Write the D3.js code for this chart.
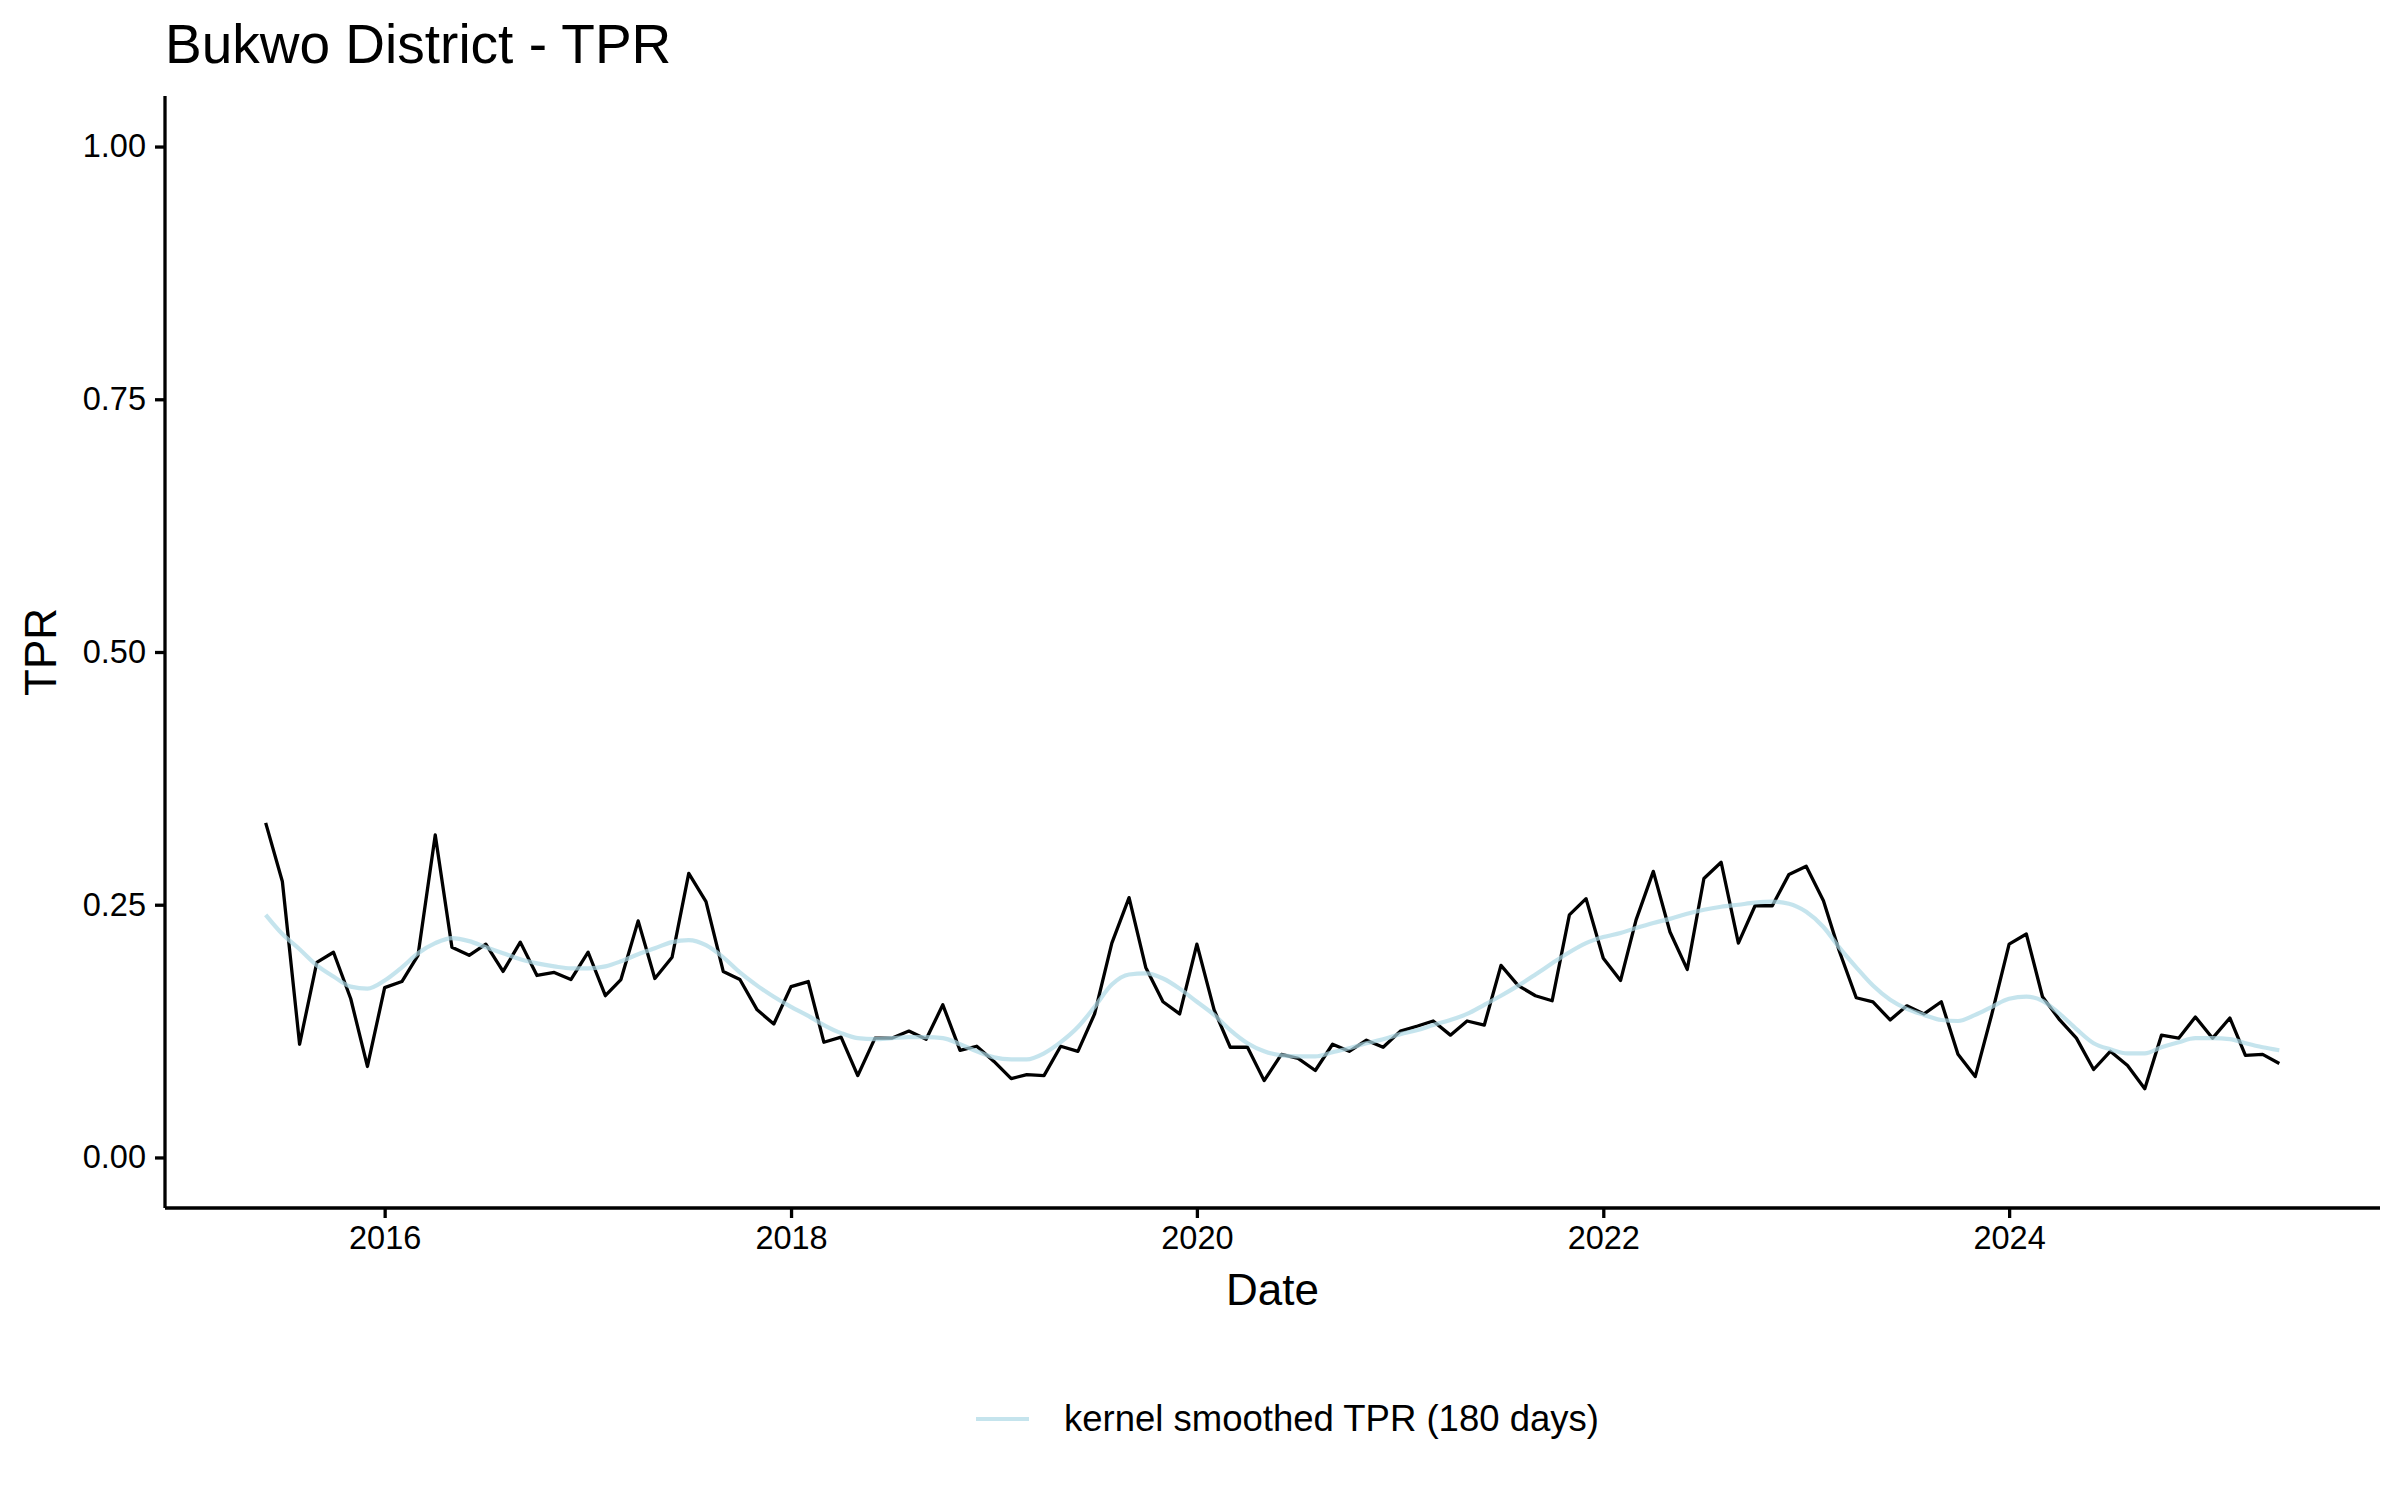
<!DOCTYPE html>
<html>
<head>
<meta charset="utf-8">
<script src="https://cdn.jsdelivr.net/npm/d3@7"></script>
<style>
  body { margin: 0; background: #fff; }
  svg { display: block; font-family: "Liberation Sans", Arial, sans-serif; }
  .axis path, .axis line { stroke: #000; }
  .axis text { fill: #000; }
</style>
</head>
<body>
<svg id="chart"></svg>
<script>
// monthly TPR, June 2015 .. May 2025
const startYear = 2015;
const startMonth = 5; // June (0-based)

const tpr = [
  0.331, 0.273, 0.112, 0.193, 0.203, 0.157, 0.090, 0.168, 0.174, 0.200, 0.319, 0.208,
  0.200, 0.211, 0.184, 0.213, 0.180, 0.183, 0.176, 0.203, 0.160, 0.176, 0.234, 0.177,
  0.198, 0.281, 0.253, 0.184, 0.176, 0.146, 0.132, 0.169, 0.174, 0.114, 0.119, 0.081,
  0.118, 0.118, 0.125, 0.117, 0.151, 0.106, 0.110, 0.095, 0.078, 0.082, 0.081, 0.110,
  0.105, 0.142, 0.212, 0.257, 0.188, 0.154, 0.142, 0.211, 0.146, 0.109, 0.109, 0.076,
  0.102, 0.098, 0.086, 0.112, 0.105, 0.116, 0.109, 0.125, 0.130, 0.135, 0.121, 0.135,
  0.131, 0.190, 0.170, 0.160, 0.155, 0.240, 0.256, 0.197, 0.175, 0.235, 0.283, 0.223,
  0.186, 0.276, 0.292, 0.212, 0.249, 0.249, 0.280, 0.288, 0.254, 0.205, 0.158, 0.154,
  0.136, 0.150, 0.142, 0.154, 0.102, 0.080, 0.142, 0.211, 0.221, 0.159, 0.136, 0.118,
  0.087, 0.105, 0.091, 0.068, 0.121, 0.118, 0.139, 0.118, 0.138, 0.101, 0.102, 0.093
];

// kernel smoothed TPR (180 days)
const smoothTpr = [
  0.240, 0.221, 0.206, 0.190, 0.179, 0.169, 0.167, 0.175, 0.188, 0.202, 0.212, 0.217,
  0.214, 0.208, 0.202, 0.196, 0.192, 0.189, 0.187, 0.187, 0.189, 0.194, 0.201, 0.207,
  0.213, 0.215, 0.210, 0.198, 0.183, 0.170, 0.159, 0.149, 0.140, 0.131, 0.123, 0.118,
  0.117, 0.118, 0.119, 0.119, 0.118, 0.112, 0.105, 0.099, 0.097, 0.097, 0.103, 0.114,
  0.129, 0.149, 0.171, 0.181, 0.182, 0.177, 0.167, 0.154, 0.141, 0.126, 0.113, 0.105,
  0.101, 0.100, 0.100, 0.104, 0.108, 0.113, 0.117, 0.122, 0.126, 0.131, 0.136, 0.142,
  0.151, 0.160, 0.170, 0.181, 0.192, 0.203, 0.212, 0.218, 0.222, 0.227, 0.232, 0.236,
  0.241, 0.245, 0.248, 0.250, 0.252, 0.253, 0.251, 0.243, 0.228, 0.208, 0.188, 0.170,
  0.156, 0.147, 0.141, 0.136, 0.135, 0.141, 0.149, 0.157, 0.159, 0.155, 0.142, 0.127,
  0.113, 0.107, 0.103, 0.103, 0.109, 0.114, 0.118, 0.118, 0.117, 0.113, 0.109, 0.106
];

const xTickYears = [2016, 2018, 2020, 2022, 2024];
const yTicks = [0, 0.25, 0.5, 0.75, 1];
const title = "Bukwo District - TPR";
const legendLabel = "kernel smoothed TPR (180 days)";

const width = 2400;
const height = 1500;
const margin = { top: 96, right: 20, bottom: 292, left: 165 };

const data = tpr.map((v, i) => ({
  date: new Date(startYear, startMonth + i, 1),
  tpr: v,
  smooth: smoothTpr[i]
}));

const svg = d3.select("#chart")
  .attr("width", width)
  .attr("height", height);

// ggplot-style 5% expansion on both axes
const [d0, d1] = d3.extent(data, d => d.date);
const pad = (d1 - d0) * 0.05;
const xScale = d3.scaleTime()
  .domain([new Date(+d0 - pad), new Date(+d1 + pad)])
  .range([margin.left, width - margin.right]);

const yScale = d3.scaleLinear()
  .domain([-0.05, 1.05])
  .range([height - margin.bottom, margin.top]);

// lines
const rawLine = d3.line()
  .x(d => xScale(d.date))
  .y(d => yScale(d.tpr));

const smoothLine = d3.line()
  .x(d => xScale(d.date))
  .y(d => yScale(d.smooth))
  .curve(d3.curveMonotoneX);

svg.append("path")
  .datum(data)
  .attr("fill", "none")
  .attr("stroke", "#000")
  .attr("stroke-width", 3.3)
  .attr("stroke-linejoin", "round")
  .attr("d", rawLine);

svg.append("path")
  .datum(data)
  .attr("fill", "none")
  .attr("stroke", "#ADD8E6")
  .attr("stroke-opacity", 0.7)
  .attr("stroke-width", 4.2)
  .attr("d", smoothLine);

// axes
const xAxis = d3.axisBottom(xScale)
  .tickValues(xTickYears.map(y => new Date(y, 0, 1)))
  .tickFormat(d3.timeFormat("%Y"))
  .tickSize(10)
  .tickPadding(8);

const yAxis = d3.axisLeft(yScale)
  .tickValues(yTicks)
  .tickFormat(d3.format(".2f"))
  .tickSize(10)
  .tickPadding(9);

const gx = svg.append("g")
  .attr("class", "axis")
  .attr("transform", `translate(0, ${height - margin.bottom})`)
  .call(xAxis);

const gy = svg.append("g")
  .attr("class", "axis")
  .attr("transform", `translate(${margin.left}, 0)`)
  .call(yAxis);

[gx, gy].forEach(g => {
  g.select(".domain").attr("stroke-width", 3.3);
  g.selectAll(".tick line").attr("stroke-width", 3.3);
  g.selectAll(".tick text").style("font-size", "32.5px");
});
// plain axis lines without end caps
gx.select(".domain").attr("d", `M${margin.left},0H${width - margin.right}`);
gy.select(".domain").attr("d", `M0,${margin.top}V${height - margin.bottom}`);

// titles
svg.append("text")
  .attr("x", margin.left)
  .attr("y", 63)
  .style("font-size", "55px")
  .text(title);

svg.append("text")
  .attr("text-anchor", "middle")
  .attr("x", (margin.left + width - margin.right) / 2)
  .attr("y", 1305)
  .style("font-size", "44px")
  .text("Date");

svg.append("text")
  .attr("text-anchor", "middle")
  .attr("transform", `translate(56, ${(margin.top + height - margin.bottom) / 2}) rotate(-90)`)
  .style("font-size", "44px")
  .text("TPR");

// legend
const legend = svg.append("g")
  .attr("transform", "translate(976, 1419)");

legend.append("line")
  .attr("x1", 0)
  .attr("x2", 53)
  .attr("stroke", "#ADD8E6")
  .attr("stroke-opacity", 0.7)
  .attr("stroke-width", 4.2);

legend.append("text")
  .attr("x", 88)
  .attr("y", 12)
  .style("font-size", "36.5px")
  .text(legendLabel);
</script>
</body>
</html>
